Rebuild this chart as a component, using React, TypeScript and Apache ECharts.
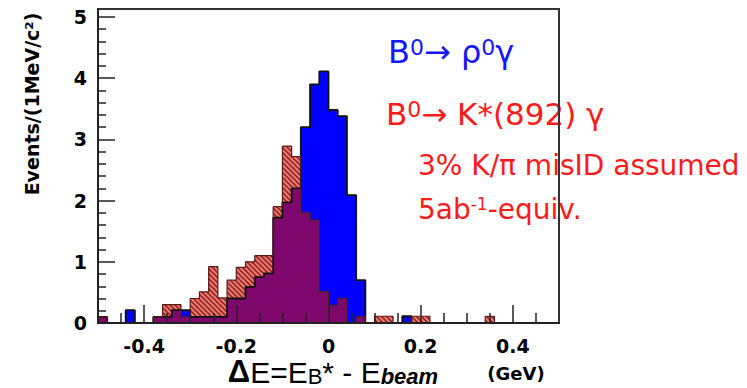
import React, { useEffect, useRef } from "react";
import * as echarts from "echarts";

// Histogram binning: 50 bins of 0.02 GeV from -0.5 to 0.5
const BIN_START = -0.5;
const BIN_WIDTH = 0.02;

// B0 -> rho0 gamma (blue), events per bin
const rhoGamma = [
  0.1, 0, 0, 0.21, 0, 0, 0.1, 0.1, 0.21, 0.21,
  0.1, 0.1, 0.1, 0.1, 0.4, 0.4, 0.59, 0.75, 0.81, 1.72,
  1.97, 2.2, 3.2, 3.9, 4.11, 3.48, 3.38, 2.09, 0.7, 0,
  0, 0, 0, 0.11, 0, 0, 0, 0, 0, 0,
  0, 0, 0, 0, 0, 0, 0, 0, 0, 0,
];

// B0 -> K*(892) gamma (red hatched), events per bin
const kstarGamma = [
  0.1, 0, 0, 0, 0, 0, 0.1, 0.3, 0.3, 0.1,
  0.4, 0.51, 0.92, 0.41, 0.7, 0.91, 1.0, 1.1, 1.1, 1.9,
  2.89, 2.72, 1.8, 1.68, 0.51, 0.29, 0.4, 0, 0.1, 0,
  0.11, 0.11, 0, 0, 0.11, 0.11, 0, 0, 0, 0,
  0, 0, 0.11, 0, 0, 0, 0, 0, 0, 0,
];

const xMajorTicks = [-0.4, -0.2, 0, 0.2, 0.4];
const xTickLabels = ["-0.4", "-0.2", "0", "0.2", "0.4"];
const xMinorTicks = [-0.45, -0.35, -0.3, -0.25, -0.15, -0.1, -0.05, 0.05, 0.1, 0.15, 0.25, 0.3, 0.35, 0.45];
const yMajorTicks = [0, 1, 2, 3, 4, 5];
const yMinorTicks = [
  0.2, 0.4, 0.6, 0.8, 1.2, 1.4, 1.6, 1.8, 2.2, 2.4, 2.6, 2.8,
  3.2, 3.4, 3.6, 3.8, 4.2, 4.4, 4.6, 4.8,
];

function stepData(vals: number[]): number[][] {
  const pts: number[][] = [[BIN_START, 0]];
  vals.forEach((v, i) => pts.push([BIN_START + i * BIN_WIDTH, v]));
  const end = BIN_START + vals.length * BIN_WIDTH;
  pts.push([end, vals[vals.length - 1]]);
  pts.push([end, 0]);
  return pts;
}

function hatch(bg: string, line: string, size: number, width: number) {
  const c = document.createElement("canvas");
  c.width = size;
  c.height = size;
  const ctx = c.getContext("2d")!;
  ctx.fillStyle = bg;
  ctx.fillRect(0, 0, size, size);
  ctx.strokeStyle = line;
  ctx.lineWidth = width;
  ctx.beginPath();
  ctx.moveTo(-2, -2);
  ctx.lineTo(size + 2, size + 2);
  ctx.moveTo(-2, size - 2);
  ctx.lineTo(2, size + 2);
  ctx.moveTo(size - 2, -2);
  ctx.lineTo(size + 2, 2);
  ctx.stroke();
  return { image: c, repeat: "repeat", imageWidth: size, imageHeight: size } as any;
}

export default function App() {
  const ref = useRef<HTMLDivElement>(null);

  useEffect(() => {
    document.body.style.margin = "0";
    const chart = echarts.init(ref.current!, null, { renderer: "svg" });
    const overlap = rhoGamma.map((v, i) => Math.min(v, kstarGamma[i]));
    const labelFont = { fontFamily: "DejaVu Sans", fontWeight: "bold" as const, fontSize: 19, lineHeight: 19, color: "#000" };

    const option: any = {
      animation: false,
      backgroundColor: "#fff",
      grid: {
        left: 98, right: 188, top: 9, bottom: 65,
        show: true, borderColor: "#333", borderWidth: 2, backgroundColor: "transparent", z: 10,
      },
      xAxis: [
        {
          type: "value", min: -0.5, max: 0.5, z: 12,
          axisLine: { show: true, onZero: false, lineStyle: { color: "#222", width: 2 } },
          axisTick: { show: true, inside: true, length: 18, customValues: xMajorTicks, lineStyle: { color: "#222", width: 1.5 } },
          axisLabel: {
            customValues: xMajorTicks,
            formatter: (v: number) => xTickLabels[xMajorTicks.findIndex((t) => Math.abs(t - v) < 1e-6)] ?? "",
            margin: 13, ...labelFont,
          },
          splitLine: { show: false },
        },
        {
          type: "value", min: -0.5, max: 0.5, z: 12, position: "bottom",
          axisLine: { show: false, onZero: false },
          axisTick: { show: true, inside: true, length: 10, customValues: xMinorTicks, lineStyle: { color: "#222", width: 1.5 } },
          axisLabel: { show: false },
          splitLine: { show: false },
        },
      ],
      yAxis: [
        {
          type: "value", min: 0, max: 5.13, z: 12,
          axisLine: { show: true, onZero: false, lineStyle: { color: "#222", width: 2 } },
          axisTick: { show: true, inside: true, length: 17, customValues: yMajorTicks, lineStyle: { color: "#222", width: 1.5 } },
          axisLabel: { customValues: yMajorTicks, margin: 11, ...labelFont },
          splitLine: { show: false },
        },
        {
          type: "value", min: 0, max: 5.13, z: 12, position: "left",
          axisLine: { show: false, onZero: false },
          axisTick: { show: true, inside: true, length: 8, customValues: yMinorTicks, lineStyle: { color: "#222", width: 1.5 } },
          axisLabel: { show: false },
          splitLine: { show: false },
        },
      ],
      series: [
        {
          name: "rho", type: "line", step: "end", symbol: "none", data: stepData(rhoGamma),
          lineStyle: { width: 0 }, areaStyle: { color: "#0000ff", opacity: 1 }, z: 2,
        },
        {
          name: "kstar", type: "line", step: "end", symbol: "none", data: stepData(kstarGamma),
          lineStyle: { width: 0 }, areaStyle: { color: hatch("#f67d74", "#8e2a28", 5, 1.6), opacity: 1 }, z: 3,
        },
        {
          name: "overlap", type: "line", step: "end", symbol: "none", data: stepData(overlap),
          lineStyle: { width: 0 }, areaStyle: { color: hatch("#7a087c", "#8a0a4e", 5, 1.1), opacity: 1 }, z: 4,
        },
        {
          name: "rhoOutline", type: "line", step: "end", symbol: "none", data: stepData(rhoGamma),
          lineStyle: { width: 1.8, color: "#111" }, z: 5,
        },
        {
          name: "kstarOutline", type: "line", step: "end", symbol: "none", data: stepData(kstarGamma),
          lineStyle: { width: 1.2, color: "#5a1a1a" }, z: 6,
        },
      ],
      graphic: [
        {
          type: "text", x: 32, y: 104, rotation: Math.PI / 2,
          style: { text: "Events/(1MeV/c²)", font: 'bold 19px "DejaVu Sans"', fill: "#000", align: "center", verticalAlign: "middle" },
        },
        {
          type: "text", x: 333, y: 375,
          style: {
            text: "{d|Δ}{e|E=E}{s|B}{e|* - E}{b|beam}",
            align: "center", verticalAlign: "middle", fill: "#000",
            rich: {
              d: { font: 'bold 31px "Liberation Sans"', fill: "#000", verticalAlign: "bottom", lineHeight: 24 },
              e: { font: '30px "Liberation Sans"', fill: "#000", verticalAlign: "bottom", lineHeight: 24 },
              s: { font: '22px "Liberation Sans"', fill: "#000", verticalAlign: "bottom", lineHeight: 20 },
              b: { font: 'italic bold 22px "Liberation Sans"', fill: "#000", verticalAlign: "bottom", lineHeight: 20 },
            },
          },
        },
        {
          type: "text", x: 516, y: 373,
          style: { text: "(GeV)", font: 'bold 18px "DejaVu Sans"', fill: "#000", align: "center", verticalAlign: "middle" },
        },
        {
          type: "text", x: 388, y: 52,
          style: {
            text: "{b|B}{s|0}{b|→ ρ}{s|0}{b|γ}", fill: "#1515ff", align: "left", verticalAlign: "middle",
            rich: {
              b: { font: '32px "DejaVu Sans"', fill: "#1515ff", verticalAlign: "bottom" },
              s: { font: '22px "DejaVu Sans"', fill: "#1515ff", verticalAlign: "top" },
            },
          },
        },
        {
          type: "text", x: 386, y: 114,
          style: {
            text: "{b|B}{s|0}{b|→ K*(892) γ}", fill: "#ff1a1a", align: "left", verticalAlign: "middle",
            rich: {
              b: { font: '31px "DejaVu Sans"', fill: "#ff1a1a", verticalAlign: "bottom" },
              s: { font: '22px "DejaVu Sans"', fill: "#ff1a1a", verticalAlign: "top" },
            },
          },
        },
        {
          type: "text", x: 418, y: 165,
          style: { text: "3% K/π misID assumed", font: '28px "DejaVu Sans"', fill: "#ff1a1a", align: "left", verticalAlign: "middle" },
        },
        {
          type: "text", x: 418, y: 209,
          style: {
            text: "{b|5ab}{s|-1}{b|-equiv.}", fill: "#ff1a1a", align: "left", verticalAlign: "middle",
            rich: {
              b: { font: '28px "DejaVu Sans"', fill: "#ff1a1a", verticalAlign: "bottom" },
              s: { font: '17px "DejaVu Sans"', fill: "#ff1a1a", verticalAlign: "top" },
            },
          },
        },
      ],
    };

    chart.setOption(option);
    return () => chart.dispose();
  }, []);

  return <div ref={ref} style={{ width: 747, height: 388 }} />;
}
